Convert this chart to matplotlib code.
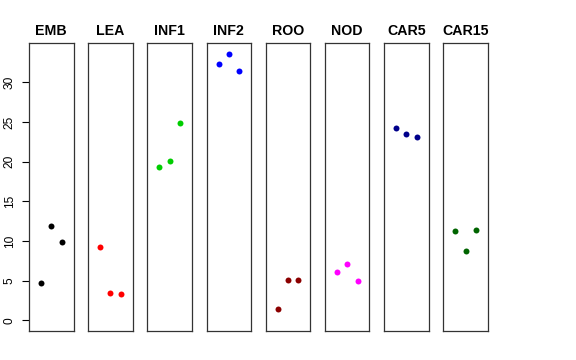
import matplotlib
matplotlib.use("Agg")
import matplotlib.pyplot as plt

tissues = ["EMB", "LEA", "INF1", "INF2", "ROO", "NOD", "CAR5", "CAR15"]
colors = ["black", "#FF0000", "#00CD00", "#0000FF", "#8B0000", "#FF00FF", "#00008B", "#006400"]
replicate = [1, 2, 3]
values = {
    "EMB":   [4.70, 11.85, 9.92],
    "LEA":   [9.20, 3.49, 3.32],
    "INF1":  [19.37, 20.08, 24.92],
    "INF2":  [32.27, 33.57, 31.47],
    "ROO":   [1.39, 5.08, 5.08],
    "NOD":   [6.09, 7.10, 5.00],
    "CAR5":  [24.29, 23.49, 23.11],
    "CAR15": [11.22, 8.78, 11.43],
}
yticks = [0, 5, 10, 15, 20, 25, 30]

plt.rcParams['font.family'] = ['Liberation Sans', 'DejaVu Sans']
W, H = 576, 360
fig = plt.figure(figsize=(W / 100, H / 100), dpi=100)

ymax = max(max(v) for v in values.values())
ymin = 0
pad_y = 0.04 * (ymax - ymin)
pad_x = 0.04 * 4

left0, pitch, pw = 29, 59.18, 44.6
top, bottom = 43.3, 331
for i, (t, c) in enumerate(zip(tissues, colors)):
    l = left0 + i * pitch
    ax = fig.add_axes([l / W, (H - bottom) / H, pw / W, (bottom - top) / H])
    ax.plot(replicate, values[t], 'o', color=c, ms=4.3, mec='none')
    ax.set_xlim(0 - pad_x, 4 + pad_x)
    ax.set_ylim(ymin - pad_y, ymax + pad_y)
    ax.set_xticks([])
    for s in ax.spines.values():
        s.set_linewidth(0.9)
        s.set_color('#333333')
    ax.set_title(t, fontsize=10.2, fontweight='bold', pad=6)
    if i == 0:
        ax.set_yticks(yticks)
        ax.set_yticklabels([str(v) for v in yticks], rotation=90, va='center', fontsize=8.6)
        ax.tick_params(axis='y', length=5, width=0.8, pad=4.5)
    else:
        ax.set_yticks([])

fig.savefig("out.png", dpi=100)
